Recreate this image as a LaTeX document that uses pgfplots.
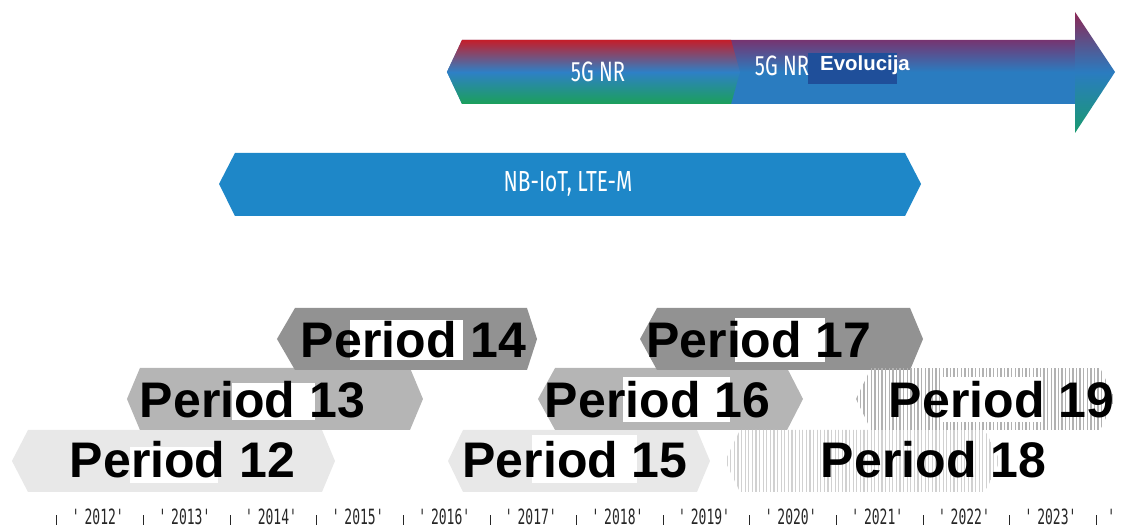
\documentclass[border=0pt]{standalone}
\usepackage{fontspec}
\usepackage{pgfplots}
\pgfplotsset{compat=1.18}
\usetikzlibrary{patterns.meta}
\setmainfont{Liberation Sans}
\newfontfamily\condfont[FakeStretch=0.72]{Fira Sans}
\newfontfamily\tickfont[FakeStretch=0.62]{DejaVu Sans Mono}
\definecolor{gLight}{RGB}{232,232,232}
\definecolor{gMid}{RGB}{181,181,181}
\definecolor{gDark}{RGB}{146,146,146}
\definecolor{nbBlue}{RGB}{30,135,200}
\definecolor{nrRed}{RGB}{196,30,42}
\definecolor{nrBlue}{RGB}{46,128,198}
\definecolor{nrGreen}{RGB}{27,160,90}
\definecolor{evTop}{RGB}{118,52,112}
\definecolor{evBlue}{RGB}{42,124,192}
\definecolor{ahTop}{RGB}{140,40,85}
\definecolor{ahBot}{RGB}{26,154,112}
\definecolor{evBox}{RGB}{31,79,154}
\newcommand\B{\rule{0.5pt}{5pt}}
\newcommand\Y[1]{\textquotesingle#1\textquotesingle}
\newcommand\PF{\fontsize{25}{30}\selectfont\bfseries}
\begin{document}
\begin{tikzpicture}
\begin{axis}[
  scale only axis, width=561.5pt, height=264pt,
  xmin=2011.342, xmax=2024.309, ymin=0, ymax=528,
  axis line style={draw=none}, major tick length=0pt, ytick=\empty,
  xtick={2012,2012.5,2013,2013.5,2014,2014.5,2015,2015.5,2016,2016.5,2017,2017.5,2018,2018.5,2019,2019.5,2020,2020.5,2021,2021.5,2022,2022.5,2023,2023.5,2024,2024.2},
  xticklabels={\B,\Y{2012},\B,\Y{2013},\B,\Y{2014},\B,\Y{2015},\B,\Y{2016},\B,\Y{2017},\B,\Y{2018},\B,\Y{2019},\B,\Y{2020},\B,\Y{2021},\B,\Y{2022},\B,\Y{2023},\B,\textquotesingle},
  xticklabel style={font=\tickfont\fontsize{10.5}{11}\selectfont, anchor=base, yshift=1.5pt, inner sep=0pt, text=black!85},
  clip=false]
% 5G NR arrow body (evolution part)
\addplot[draw=none, top color=evTop, bottom color=evBlue, middle color=evBlue] coordinates {(2016.503,456) (2016.677,488) (2023.755,488) (2023.755,424) (2016.677,424)} -- cycle;
% 5G NR segment
\addplot[draw=none, top color=nrRed, bottom color=nrGreen, middle color=nrBlue] coordinates {(2016.503,456) (2016.677,488) (2019.783,488) (2019.887,456) (2019.783,424) (2016.677,424)} -- cycle;
% arrow head
\addplot[draw=none, top color=ahTop, bottom color=ahBot, middle color=evBlue] coordinates {(2023.755,516) (2024.217,456) (2023.755,395)} -- cycle;
% Evolucija box
\addplot[draw=none, fill=evBox] coordinates {(2020.672,475) (2021.700,475) (2021.700,444) (2020.672,444)} -- cycle;
% NB-IoT bar
\addplot[draw=none, fill=nbBlue] coordinates {(2013.871,344) (2014.055,375) (2021.792,375) (2021.977,344) (2021.792,312) (2014.055,312)} -- cycle;
% Periods
\addplot[draw=none, fill=gLight] coordinates {(2011.480,67) (2011.665,98) (2015.060,98) (2015.210,67) (2015.060,36) (2011.665,36)} -- cycle;
\addplot[draw=none, fill=gMid] coordinates {(2012.808,129) (2012.958,160) (2016.076,160) (2016.226,129) (2016.076,98) (2012.958,98)} -- cycle;
\addplot[draw=none, fill=gDark] coordinates {(2014.540,189) (2014.748,220) (2017.427,220) (2017.543,189) (2017.427,158) (2014.748,158)} -- cycle;
\addplot[draw=none, fill=gLight] coordinates {(2016.515,67) (2016.688,98) (2019.390,98) (2019.540,67) (2019.390,36) (2016.688,36)} -- cycle;
\addplot[draw=none, fill=gMid] coordinates {(2017.554,129) (2017.751,160) (2020.430,160) (2020.614,129) (2020.430,98) (2017.751,98)} -- cycle;
\addplot[draw=none, fill=gDark] coordinates {(2018.732,189) (2018.928,220) (2021.850,220) (2022.000,189) (2021.850,158) (2018.928,158)} -- cycle;
\addplot[draw=none, pattern={Lines[angle=90,distance=1.8pt,line width=0.6pt]}, pattern color=black!18] coordinates {(2019.714,67) (2019.887,98) (2022.716,98) (2022.889,67) (2022.716,36) (2019.887,36)} -- cycle;
\addplot[draw=none, pattern={Lines[angle=90,distance=1.8pt,line width=0.7pt]}, pattern color=black!30] coordinates {(2021.226,129) (2021.400,160) (2024.044,160) (2024.217,129) (2024.044,98) (2021.400,98)} -- cycle;
% white patches behind labels
\addplot[draw=none, fill=white] coordinates {(2012.843,81) (2013.859,81) (2013.859,45) (2012.843,45)} -- cycle;
\addplot[draw=none, fill=white] coordinates {(2014.021,145) (2014.979,145) (2014.979,108) (2014.021,108)} -- cycle;
\addplot[draw=none, fill=white] coordinates {(2015.383,208) (2016.688,208) (2016.688,168) (2015.383,168)} -- cycle;
\addplot[draw=none, fill=white] coordinates {(2017.485,93) (2018.697,93) (2018.697,45) (2017.485,45)} -- cycle;
\addplot[draw=none, fill=white] coordinates {(2018.536,151) (2019.771,151) (2019.771,106) (2018.536,106)} -- cycle;
\addplot[draw=none, fill=white] coordinates {(2019.829,210) (2020.868,210) (2020.868,166) (2019.829,166)} -- cycle;
\addplot[draw=none, fill=white] coordinates {(2022.196,151) (2023.386,151) (2023.386,106) (2022.196,106)} -- cycle;
% texts
\node[text=white, font=\condfont\fontsize{14}{16}\selectfont] at (axis cs:2018.247,456) {5G NR};
\node[text=white, font=\condfont\fontsize{14}{16}\selectfont] at (axis cs:2020.372,462) {5G NR};
\node[text=white, font=\bfseries\fontsize{10.2}{12}\selectfont] at (axis cs:2021.330,463) {Evolucija};
\node[text=white, font=\condfont\fontsize{14.5}{16}\selectfont] at (axis cs:2017.901,344) {NB-IoT, LTE-M};
\node[font=\PF] at (axis cs:2013.449,68) {Period 12};
\node[font=\PF] at (axis cs:2014.257,128) {Period 13};
\node[font=\PF] at (axis cs:2016.117,188) {Period 14};
\node[font=\PF] at (axis cs:2017.982,68) {Period 15};
\node[font=\PF] at (axis cs:2018.934,128) {Period 16};
\node[font=\PF] at (axis cs:2020.106,188) {Period 17};
\node[font=\PF] at (axis cs:2022.121,68) {Period 18};
\node[font=\PF] at (axis cs:2022.906,128) {Period 19};
\end{axis}
\pgfresetboundingbox
\useasboundingbox (current axis.south west) rectangle (current axis.north east);
\end{tikzpicture}
\end{document}
